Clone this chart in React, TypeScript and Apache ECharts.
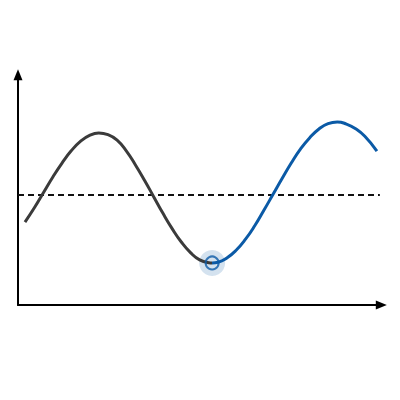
import React, { useEffect, useRef } from "react";
import * as echarts from "echarts";

// Curve (x in time units, y in value units)
const curveX = [
  0.19, 0.45, 0.7, 0.95, 1.2, 1.45, 1.7, 1.95, 2.2, 2.45, 2.7, 2.95, 3.2, 3.45,
  3.7, 3.95, 4.2, 4.45, 4.7, 4.95, 5.2, 5.29, 5.45, 5.7, 5.95, 6.2, 6.45, 6.7,
  6.95, 7.2, 7.45, 7.7, 7.95, 8.2, 8.45, 8.7, 8.95, 9.2, 9.45, 9.78,
];
const curveY = [
  3.53, 4.15, 4.8, 5.45, 6.04, 6.56, 6.96, 7.22, 7.32, 7.25, 7.02, 6.56, 5.96, 5.3,
  4.6, 3.9, 3.25, 2.68, 2.23, 1.92, 1.8, 1.79, 1.82, 2.01, 2.34, 2.8, 3.37, 4.03,
  4.71, 5.39, 6.05, 6.64, 7.12, 7.49, 7.72, 7.79, 7.7, 7.5, 7.18, 6.55,
];
const splitX = 5.29; // curve turns blue after the minimum
const baselineValue = 4.68;
const baselineRange = [0, 9.86];
const minimumPoint = [5.29, 1.79];
const xMax = 9.9;
const yMax = 9.8;

const GRAY = "#3b3b3b";
const BLUE = "#0b5aa6";

export default function App() {
  const ref = useRef<HTMLDivElement>(null);
  useEffect(() => {
    document.body.style.margin = "0";
    const chart = echarts.init(ref.current!, undefined, { renderer: "svg" });
    const axisLine = {
      show: true,
      symbol: ["none", "triangle"],
      symbolSize: [9, 11],
      lineStyle: { color: "#000", width: 2 },
    };
    chart.setOption({
      animation: false,
      backgroundColor: "#fff",
      grid: { left: 18, top: 305 - yMax * 23.5, width: xMax * 36.7, height: yMax * 23.5 },
      xAxis: {
        type: "value",
        min: 0,
        max: xMax,
        axisLine,
        axisTick: { show: false },
        axisLabel: { show: false },
        splitLine: { show: false },
      },
      yAxis: {
        type: "value",
        min: 0,
        max: yMax,
        axisLine,
        axisTick: { show: false },
        axisLabel: { show: false },
        splitLine: { show: false },
      },
      series: [
        {
          type: "line",
          data: baselineRange.map((x) => [x, baselineValue]),
          symbol: "none",
          lineStyle: { color: "#111", width: 2, type: [6, 4] },
          z: 1,
        },
        {
          id: "curve",
          type: "line",
          data: curveX.map((x, i) => [x, curveY[i]]),
          smooth: 0.5,
          symbol: "none",
          lineStyle: { width: 3, color: GRAY },
          z: 2,
        },
        {
          type: "scatter",
          data: [minimumPoint],
          symbolSize: 26,
          itemStyle: { color: "rgba(11,90,166,0.22)" },
          z: 0,
        },
        {
          type: "scatter",
          data: [minimumPoint],
          symbolSize: 13,
          itemStyle: { color: "rgba(0,0,0,0)", borderColor: BLUE, borderWidth: 2 },
          z: 4,
        },
      ],
    });
    const x0 = chart.convertToPixel({ xAxisIndex: 0 }, 0);
    const x1 = chart.convertToPixel({ xAxisIndex: 0 }, xMax);
    const xs = chart.convertToPixel({ xAxisIndex: 0 }, splitX);
    const cut = (xs - x0) / (x1 - x0);
    chart.setOption({
      series: [
        {
          id: "curve",
          lineStyle: {
            color: new echarts.graphic.LinearGradient(
              x0, 0, x1, 0,
              [
                { offset: 0, color: GRAY },
                { offset: cut, color: GRAY },
                { offset: cut, color: BLUE },
                { offset: 1, color: BLUE },
              ],
              true
            ),
          },
        },
      ],
    });
    return () => chart.dispose();
  }, []);
  return (
    <div
      ref={ref}
      style={{ position: "fixed", left: 0, top: 0, width: 400, height: 400 }}
    />
  );
}
